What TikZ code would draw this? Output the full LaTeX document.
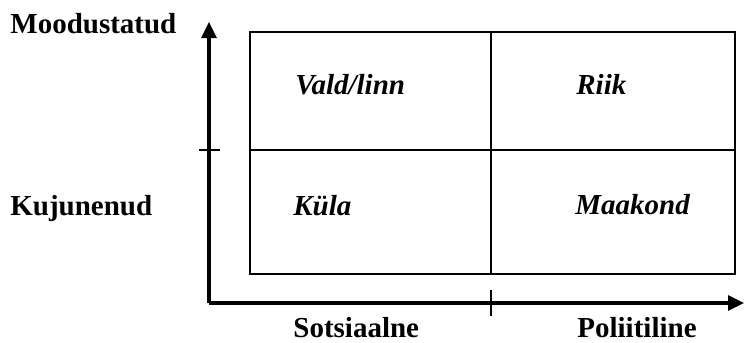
\documentclass[tikz,border=0pt]{standalone}
\usepackage{fontspec}
\setmainfont{Liberation Serif}
\usetikzlibrary{arrows.meta}
\tikzstyle{axis}=[line width=1.6pt,-{Triangle[length=8pt,width=7.5pt]}]
\tikzstyle{cell}=[line width=1pt]
\tikzstyle{tickmark}=[line width=0.7pt]
\tikzstyle{axislabel}=[anchor=base west,inner sep=0pt,font=\fontsize{14.5}{17}\selectfont\bfseries]
\tikzstyle{celllabel}=[anchor=base west,inner sep=0pt,font=\fontsize{14.5}{17}\selectfont\bfseries\itshape]
\begin{document}
\begin{tikzpicture}[x=0.5pt,y=-0.5pt]
    \useasboundingbox (0,0) rectangle (745,343);

    % axes
    \coordinate (O) at (209,303);
    \coordinate (Ytop) at (209,22);
    \coordinate (Xend) at (744,303);
    \draw[axis] (O) -- (Ytop);
    \draw[axis] (O) -- (Xend);

    % ticks
    \coordinate (ytickA) at (199,150);
    \coordinate (ytickB) at (220,150);
    \coordinate (xtickA) at (491,290);
    \coordinate (xtickB) at (491,316);
    \draw[tickmark] (ytickA) -- (ytickB);
    \draw[tickmark] (xtickA) -- (xtickB);

    % the four cells
    \coordinate (NW) at (250,32);
    \coordinate (SE) at (735,274);
    \coordinate (Ntop) at (491,32);
    \coordinate (Nbot) at (491,274);
    \coordinate (Wmid) at (250,150);
    \coordinate (Emid) at (735,150);
    \draw[cell] (NW) rectangle (SE);
    \draw[cell] (Ntop) -- (Nbot);
    \draw[cell] (Wmid) -- (Emid);

    \foreach \pos/ \name / \label in {{(10,33)/made/Moodustatud},{(10,215)/grown/Kujunenud},
                                      {(293,337)/social/Sotsiaalne},{(577,337)/political/Poliitiline}}
        \node[axislabel] (\name) at \pos {\label};

    \foreach \pos/ \name / \label in {{(295,94)/parish/{Vald/linn}},{(576,94)/state/Riik},
                                      {(293,215)/village/Küla},{(575,214)/county/Maakond}}
        \node[celllabel] (\name) at \pos {\label};
\end{tikzpicture}
\end{document}
